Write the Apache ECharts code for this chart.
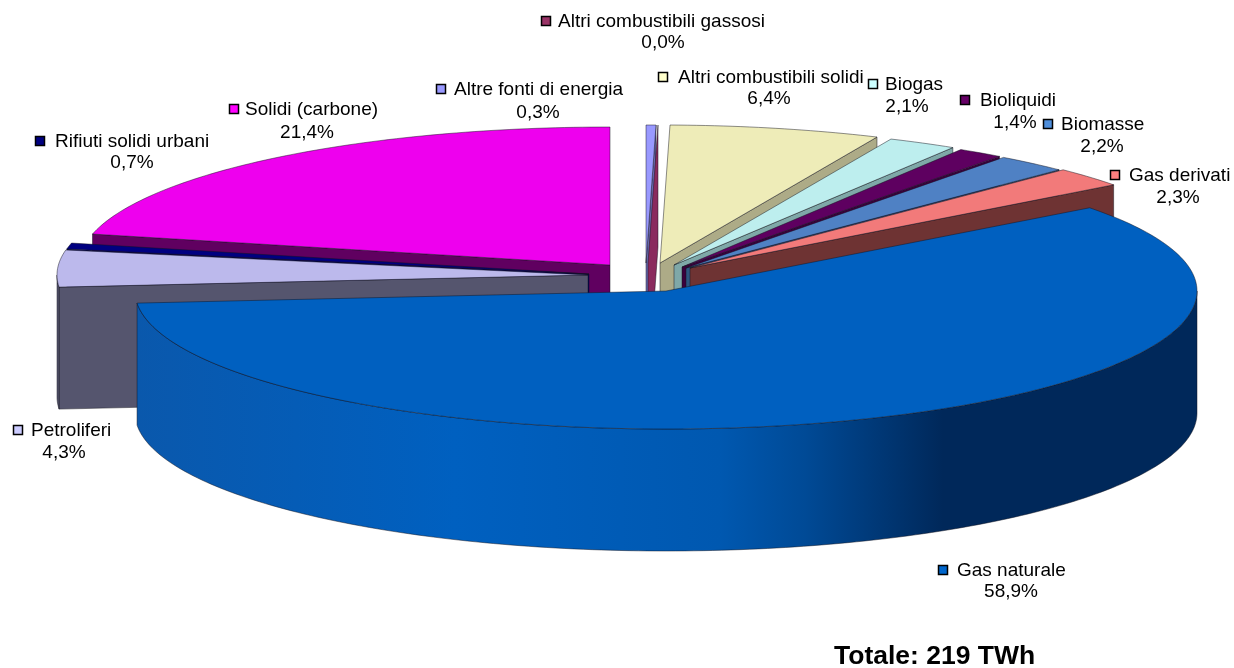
<!DOCTYPE html>
<html>
<head>
<meta charset="utf-8">
<title>Totale: 219 TWh</title>
<style>
html, body { margin: 0; padding: 0; background: #fff; }
#main { width: 1234px; height: 668px; }
</style>
<script src="https://cdn.jsdelivr.net/npm/echarts@6/dist/echarts.min.js"></script>
</head>
<body>
<div id="main"></div>
<script>
// dati
var categories = ['Altre fonti di energia', 'Altri combustibili gassosi', 'Altri combustibili solidi', 'Biogas', 'Bioliquidi', 'Biomasse', 'Gas derivati', 'Gas naturale', 'Petroliferi', 'Rifiuti solidi urbani', 'Solidi (carbone)'];
var values = [0.3, 0.0, 6.4, 2.1, 1.4, 2.2, 2.3, 58.9, 4.3, 0.7, 21.4];
var totalLabel = 'Totale: 219 TWh';

// colori
var topColors = ['#9999ff', '#993366', '#eeecb8', '#bdeeee', '#5e0060', '#4f81c4', '#f27a7a', '#0060c0', '#bcb9ec', '#000080', '#ee00ee'];
var wallColors = ['#6a6ab0', '#8a2a5e', '#adab87', '#7fa8a8', '#3a003c', '#2e5580', '#6e3333', '#003a78', '#55556e', '#000058', '#600060'];
var legendColors = ['#9999ff', '#993366', '#ffffcc', '#ccffff', '#660066', '#4f8fdc', '#ff8080', '#0066cc', '#ccccff', '#000080', '#ff00ff'];

// geometria della torta
var pie = { cx: 644, cy: 276, rx: 531, ry: 138, depth: 122 };
// spostamento di ogni fetta rispetto al centro (esplosione)
var explodeX = [2, 4, 16, 30, 38, 42, 46, 22, -56, -55, -34];
var explodeY = [-13, -13, -13, -11, -9, -8, -8, 15, -1, -2, -11];
// dietro -> davanti
var drawOrder = [10, 9, 8, 0, 1, 2, 3, 4, 5, 6, 7];

// posizione etichette: [x quadratino, y riga 1, x testo, x centro riga 2, y riga 2]
var labelLayout = [
    [436, 89, 454, 538, 113],
    [541, 21, 558, 663, 43],
    [658, 77, 678, 769, 99],
    [868, 84, 885, 907, 107],
    [960, 100, 980, 1015, 123],
    [1043, 124, 1061, 1102, 147],
    [1110, 175, 1129, 1178, 198],
    [938, 570, 957, 1011, 592],
    [13, 430, 31, 64, 453],
    [35, 141, 55, 132, 163],
    [229, 109, 245, 307, 133]
];

var total = values.reduce(function (a, b) { return a + b; }, 0);
var startAngles = [];
var endAngles = [];
var acc = 0;
values.forEach(function (v, i) {
    startAngles[i] = acc / total * 360;
    acc += v;
    endAngles[i] = acc / total * 360;
});

function edgePoint(ax, ay, deg) {
    var r = deg * Math.PI / 180;
    return [ax + pie.rx * Math.sin(r), ay - pie.ry * Math.cos(r)];
}

function arcPoints(ax, ay, a1, a2) {
    var pts = [];
    var n = Math.max(2, Math.ceil((a2 - a1) / 1));
    for (var k = 0; k <= n; k++) {
        pts.push(edgePoint(ax, ay, a1 + (a2 - a1) * k / n));
    }
    return pts;
}

function face(points, fill) {
    return {
        type: 'polygon',
        shape: { points: points },
        style: { fill: fill, stroke: 'rgba(20,20,30,0.6)', lineWidth: 0.8 }
    };
}

// parete piana lungo il raggio
function cutFace(ax, ay, deg, fill) {
    var p = edgePoint(ax, ay, deg);
    return face([[ax, ay], p, [p[0], p[1] + pie.depth], [ax, ay + pie.depth]], fill);
}

// parete esterna, visibile solo nella metà anteriore
function outerWall(ax, ay, a1, a2, fill) {
    var pts = arcPoints(ax, ay, a1, a2);
    var low = pts.map(function (p) { return [p[0], p[1] + pie.depth]; }).reverse();
    return face(pts.concat(low), fill);
}

var gasGradient = new echarts.graphic.LinearGradient(0, 0, 1, 0, [
    { offset: 0, color: '#0a58ac' },
    { offset: 0.3, color: '#0060c0' },
    { offset: 0.55, color: '#0058b0' },
    { offset: 0.63, color: '#004a96' },
    { offset: 0.76, color: '#00285a' },
    { offset: 1, color: '#00285a' }
]);

function renderSlice(params, api) {
    var i = api.value(0);
    var ax = pie.cx + explodeX[i];
    var ay = pie.cy + explodeY[i];
    var a1 = startAngles[i];
    var a2 = endAngles[i];
    var wall = i === 7 ? gasGradient : wallColors[i];
    var children = [];

    if (a1 > 180) {
        children.push(cutFace(ax, ay, a1, wallColors[i]));
    }
    if (a2 < 180) {
        children.push(cutFace(ax, ay, a2, wallColors[i]));
    }
    var w1 = Math.max(a1, 90);
    var w2 = Math.min(a2, 270);
    if (w2 > w1) {
        children.push(outerWall(ax, ay, w1, w2, wall));
    }
    if (a2 > a1) {
        children.push(face([[ax, ay]].concat(arcPoints(ax, ay, a1, a2)), topColors[i]));
    }
    return { type: 'group', children: children };
}

function renderLabel(params, api) {
    var i = api.value(0);
    var pos = labelLayout[i];
    var font = '19px "Liberation Sans", Arial, sans-serif';
    return {
        type: 'group',
        children: [{
            type: 'rect',
            shape: { x: pos[0] + 0.5, y: pos[1] - 4.5, width: 9, height: 9 },
            style: { fill: legendColors[i], stroke: '#000', lineWidth: 1.5 }
        }, {
            type: 'text',
            style: { x: pos[2], y: pos[1] + 1, text: categories[i], font: font, fill: '#000', textAlign: 'left', textVerticalAlign: 'middle' }
        }, {
            type: 'text',
            style: { x: pos[3], y: pos[4], text: values[i].toFixed(1).replace('.', ',') + '%', font: font, fill: '#000', textAlign: 'center', textVerticalAlign: 'middle' }
        }]
    };
}

var myChart = echarts.init(document.getElementById('main'), null, { renderer: 'canvas' });
myChart.setOption({
    animation: false,
    backgroundColor: '#fff',
    graphic: [{
        type: 'text',
        left: 834,
        top: 643,
        style: { text: totalLabel, font: 'bold 26.5px "Liberation Sans", Arial, sans-serif', fill: '#000' }
    }],
    series: [{
        type: 'custom',
        coordinateSystem: 'none',
        silent: true,
        renderItem: renderSlice,
        data: drawOrder
    }, {
        type: 'custom',
        coordinateSystem: 'none',
        silent: true,
        renderItem: renderLabel,
        data: categories.map(function (c, i) { return i; }),
        z: 5
    }]
});
</script>
</body>
</html>
